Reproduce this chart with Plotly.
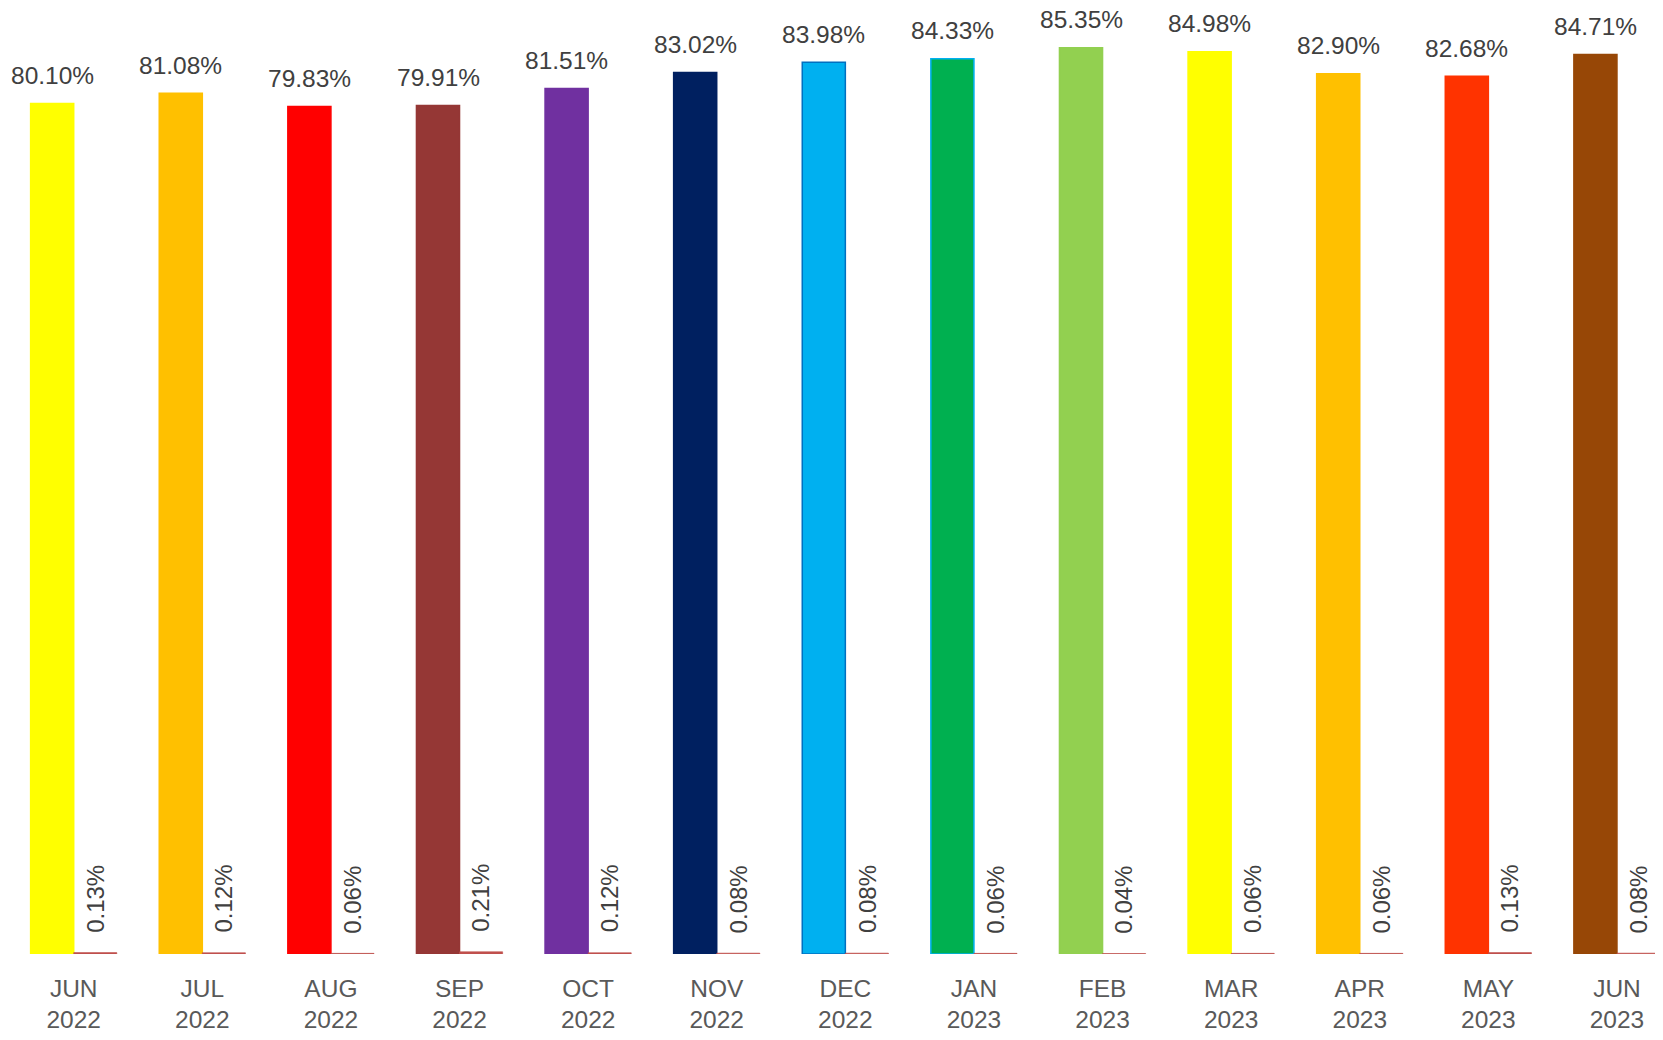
import plotly.graph_objects as go

months = ["JUN<br>2022", "JUL<br>2022", "AUG<br>2022", "SEP<br>2022", "OCT<br>2022", "NOV<br>2022",
          "DEC<br>2022", "JAN<br>2023", "FEB<br>2023", "MAR<br>2023", "APR<br>2023", "MAY<br>2023", "JUN<br>2023"]
main_values = [80.10, 81.08, 79.83, 79.91, 81.51, 83.02, 83.98, 84.33, 85.35, 84.98, 82.90, 82.68, 84.71]
small_values = [0.13, 0.12, 0.06, 0.21, 0.12, 0.08, 0.08, 0.06, 0.04, 0.06, 0.06, 0.13, 0.08]
bar_colors = ["#FFFF00", "#FFC000", "#FF0000", "#953735", "#7030A0", "#002060", "#00B0F0",
              "#00B050", "#92D050", "#FFFF00", "#FFC000", "#FF3300", "#974706"]
border_colors = ["#FFFF00", "#FFC000", "#FF0000", "#953735", "#7030A0", "#002060", "#0070C0",
                 "#00B0F0", "#92D050", "#FFFF00", "#FFC000", "#FF3300", "#974706"]
small_color = "#C0504D"

FONT = "Liberation Sans"
TXT = "#404040"

fig = go.Figure()
fig.add_trace(go.Bar(x=months, y=main_values, marker=dict(color=bar_colors,
                     line=dict(color=border_colors, width=1.5)), showlegend=False, hoverinfo="skip"))
fig.add_trace(go.Bar(x=months, y=small_values, marker=dict(color=small_color,
                     line=dict(color=small_color, width=0.6)), showlegend=False, hoverinfo="skip"))

annotations = []
for m, v, s in zip(months, main_values, small_values):
    annotations.append(dict(x=m, y=v, xref="x", yref="y", text=f"{v:.2f}%", showarrow=False,
                            xshift=-21.5, yshift=28, yanchor="middle", xanchor="center",
                            font=dict(family=FONT, size=24.5, color=TXT)))
    annotations.append(dict(x=m, y=s, xref="x", yref="y", text=f"{s:.2f}%", showarrow=False,
                            xshift=21.5, yshift=54, yanchor="middle", xanchor="center", textangle=-90,
                            font=dict(family=FONT, size=24, color=TXT)))

fig.update_layout(
    width=1655, height=1032,
    margin=dict(l=0, r=0, t=0, b=86),
    paper_bgcolor="white", plot_bgcolor="white",
    barmode="group", bargap=0.33, bargroupgap=0,
    annotations=annotations,
    xaxis=dict(type="category", categoryorder="array", categoryarray=months,
               range=[-0.511, 12.358], showgrid=False, zeroline=False, showline=False,
               ticks="", ticklabelstandoff=17,
               tickfont=dict(family=FONT, size=24.5, color="#595959")),
    yaxis=dict(range=[0, 89.1], visible=False, showgrid=False, zeroline=False),
)

fig.write_html("out.html")
